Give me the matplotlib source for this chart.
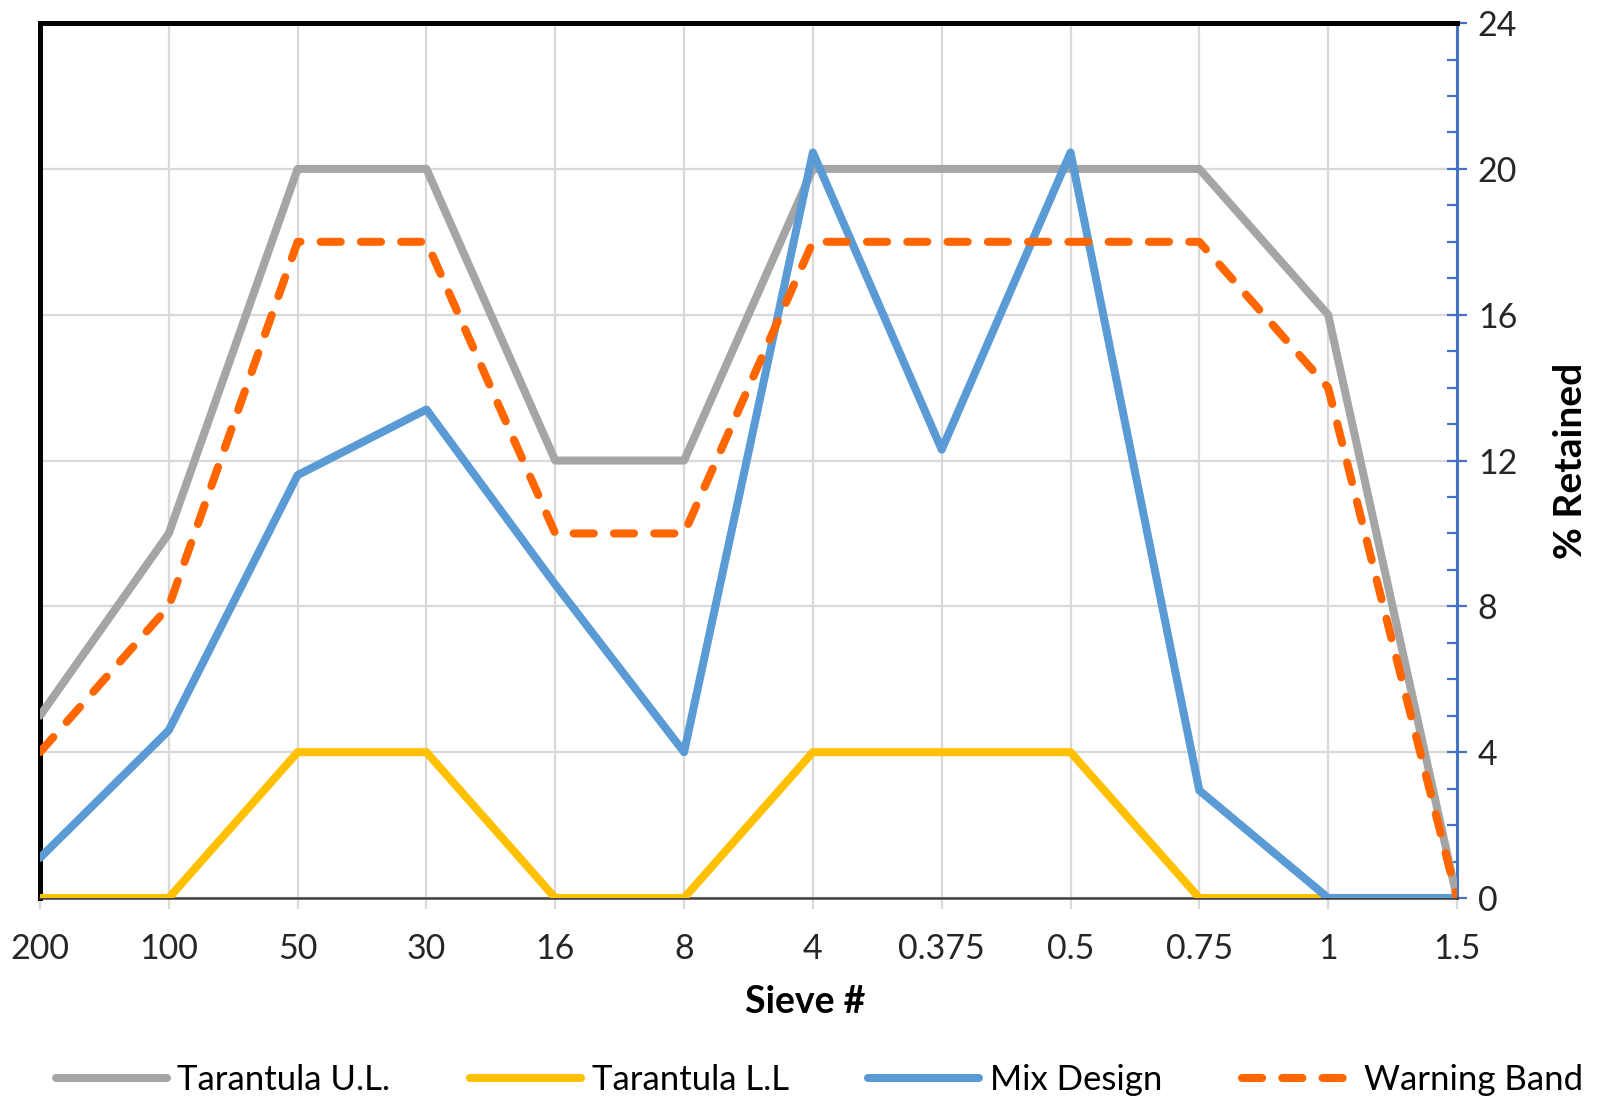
import matplotlib
matplotlib.use("Agg")
import matplotlib.pyplot as plt
from matplotlib.ticker import MultipleLocator

plt.rcParams['font.family'] = ['Lato', 'DejaVu Sans']

sieves = ["200", "100", "50", "30", "16", "8", "4", "0.375", "0.5", "0.75", "1", "1.5"]
upper_limit = [5, 10, 20, 20, 12, 12, 20, 20, 20, 20, 16, 0]
lower_limit = [0, 0, 4, 4, 0, 0, 4, 4, 4, 0, 0, 0]
mix_design = [1.1, 4.6, 11.6, 13.4, 8.6, 4.0, 20.45, 12.3, 20.45, 2.95, 0, 0]
warning_band = [4, 8, 18, 18, 10, 10, 18, 18, 18, 18, 14, 0]

fig = plt.figure(figsize=(16, 10.99), dpi=100)
ax = fig.add_axes([0.025, 0.1829, 0.8856, 0.7961])

x = list(range(len(sieves)))
lw = 5.8
ax.plot(x, upper_limit, color="#A5A5A5", lw=lw, solid_joinstyle="round",
        solid_capstyle="round", label="Tarantula U.L.", zorder=3)
ax.plot(x, lower_limit, color="#FFC000", lw=lw, solid_joinstyle="round",
        solid_capstyle="round", label="Tarantula L.L", zorder=3)
ax.plot(x, mix_design, color="#5B9BD5", lw=lw, solid_joinstyle="round",
        solid_capstyle="round", label="Mix Design", zorder=3)
ax.plot(x, warning_band, color="#FF6600", lw=lw, dashes=(2.5, 2.5),
        dash_capstyle="round", dash_joinstyle="round",
        label="Warning Band", zorder=4)

ax.set_xlim(0, len(sieves) - 1)
ax.set_ylim(0, 24)
ax.set_xticks(x)
ax.set_xticklabels(sieves)

ax.yaxis.tick_right()
ax.yaxis.set_label_position("right")
ax.yaxis.set_major_locator(MultipleLocator(4))
ax.yaxis.set_minor_locator(MultipleLocator(1))

ax.grid(True, which="major", color="#D9D9D9", lw=1.6, zorder=0)
ax.set_axisbelow(True)

blue = "#4472C4"
ax.tick_params(axis="y", which="major", direction="inout", length=14,
               width=1.6, color=blue, labelsize=24.5, pad=8, labelcolor="#262626")
ax.tick_params(axis="y", which="minor", direction="in", length=7,
               width=1.6, color=blue)
ax.tick_params(axis="x", which="major", direction="out", length=8,
               width=1.6, color="#D9D9D9", labelsize=24.5, pad=17,
               labelcolor="#262626")

for side in ("left", "top"):
    ax.spines[side].set_color("black")
    ax.spines[side].set_linewidth(3.6)
ax.spines["right"].set_color(blue)
ax.spines["right"].set_linewidth(2.2)
ax.spines["bottom"].set_color("#404040")
ax.spines["bottom"].set_linewidth(1.8)

ax.set_xlabel("Sieve #", fontsize=27, fontweight="bold", labelpad=16)
ax.xaxis.set_label_coords(0.54, -0.1)
ax.set_ylabel("% Retained", fontsize=28, fontweight="bold", labelpad=26)

fig.legend(loc="center", bbox_to_anchor=(0.512, 0.017), ncol=4, frameon=False,
           fontsize=25, handlelength=3.2, columnspacing=2.3, handletextpad=0.3)

fig.savefig("out.png", dpi=100, facecolor="white")
